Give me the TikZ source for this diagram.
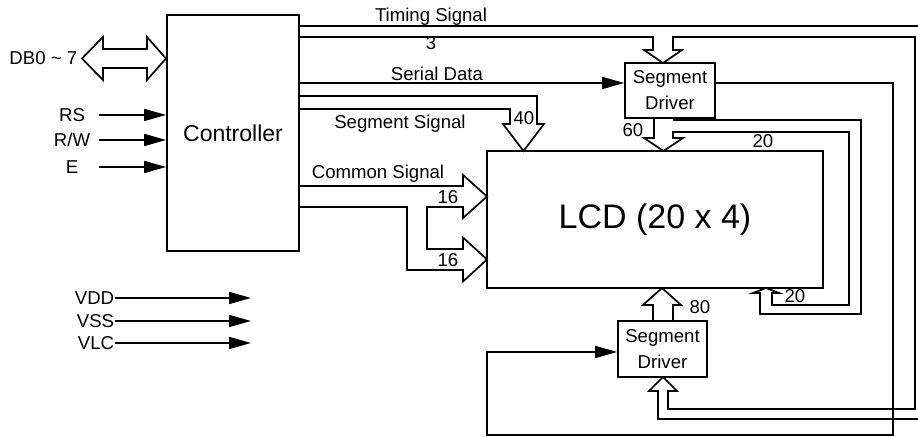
\documentclass[tikz,border=0pt]{standalone}
\usepackage{fontspec}
\setmainfont{Liberation Sans}
\usetikzlibrary{positioning, arrows.meta, calc}

\begin{document}
\begin{tikzpicture}[x=0.5pt, y=-0.5pt, line width=0.85pt,
                    blk/.style={draw, line width=0.85pt, inner sep=0pt},
                    lbl/.style={font=\fontsize{9.3}{11}\selectfont, inner sep=0pt},
                    drv/.style={blk, align=center, minimum width=45pt, minimum height=28pt,
                        font=\fontsize{9.3}{13}\selectfont},
                    sig/.style={-{Triangle[length=11pt, width=6pt]}}]
  \useasboundingbox (0,0) rectangle (918,437);

  % blocks
  \node[blk, minimum width=66pt, minimum height=118pt,
        font=\fontsize{11.5}{13}\selectfont] (ctrl) at (233,133) {Controller};
  \node[blk, minimum width=168pt, minimum height=68.5pt,
        font=\fontsize{17}{20}\selectfont] (lcd) at (655,219.5) {LCD (20 x 4)};
  \node[drv, minimum height=27.5pt] (segA) at (670,90.5) {Segment\\Driver};
  \node[drv, minimum width=44.5pt] (segB) at (662.5,349) {Segment\\Driver};

  % host side
  \node[lbl, anchor=east] (db) at (78,58.5) {DB0 \textasciitilde{} 7};
  \draw (82,58.5) -- (103,37) -- (103,49) -- (147,49) -- (147,37) -- (166,58.5)
        -- (147,80) -- (147,68) -- (103,68) -- (103,80) -- cycle;
  \foreach \t/\y/\n in {RS/115/rs, {R/W}/140/rw, E/167/en} {
    \node[lbl] (\n) at (72,\y) {\t};
    \draw[sig] (99,\y) -- (ctrl.west |- 0,\y);
  }
  \foreach \t/\y in {VDD/298, VSS/321, VLC/343} {
    \node[lbl, anchor=east] (\t) at (115,\y) {\t};
    \draw[sig] (\t.east) -- ++(136,0);
  }

  % controller outputs
  \draw (ctrl.east |- 0,26) -- (918,26);
  \node[lbl] (tim) at (431,17) {Timing Signal};
  \draw (ctrl.east |- 0,37) -- (653,37) -- (653,50) -- (644,50) -- (663,63) -- (682,50)
        -- (673,50) -- (673,37) -- (915,37) -- (915,409) -- (668,409) -- (668,391)
        -- (677,391) -- (663,377) -- (649,391) -- (658,391) -- (658,419) -- (918,419);
  \node[lbl] (three) at (431,43) {3};
  \draw[sig] (ctrl.east |- 0,83) -- (segA.west |- 0,83);
  \node[lbl] (ser) at (437,74) {Serial Data};
  \draw (ctrl.east |- 0,96) -- (537,96) -- (537,124) -- (544,124) -- (523.5,151)
        -- (503,124) -- (510,124) -- (510,109) -- (ctrl.east |- 0,109);
  \node[lbl] (forty) at (524,118) {40};
  \node[lbl] (segsig) at (400,123.5) {Segment Signal};
  \draw (ctrl.east |- 0,186) -- (463,186) -- (463,175) -- (487,196.5) -- (463,218)
        -- (463,207) -- (427,207) -- (427,249) -- (463,249) -- (463,237.5) -- (487,259.5)
        -- (463,281.5) -- (463,270) -- (407,270) -- (407,207) -- (ctrl.east |- 0,207);
  \node[lbl] (comsig) at (378,173.5) {Common Signal};
  \node[lbl] (c16a) at (448,197) {16};
  \node[lbl] (c16b) at (448,260) {16};

  % segment drivers
  \draw (654,118) -- (654,138) -- (644,138) -- (663.5,151) -- (683,138) -- (673,138)
        -- (673,132) -- (849,132) -- (849,305) -- (772,305) -- (772,293) -- (779,293)
        -- (766,288) -- (753,293) -- (760,293) -- (760,314) -- (861,314) -- (861,120)
        -- (673,120);
  \node[lbl] (s60) at (633,130) {60};
  \node[lbl] (s20a) at (763,141) {20};
  \node[lbl] (s20b) at (795,296) {20};
  \draw (653,321) -- (653,305) -- (643,305) -- (662,288) -- (681,305) -- (673,305) -- (673,321);
  \node[lbl] (s80) at (700,307) {80};
  \draw[sig] (segA.east |- 0,83) -- (893,83) -- (893,435) -- (487,435) -- (487,352)
        -- (segB.west |- 0,352);
\end{tikzpicture}
\end{document}
